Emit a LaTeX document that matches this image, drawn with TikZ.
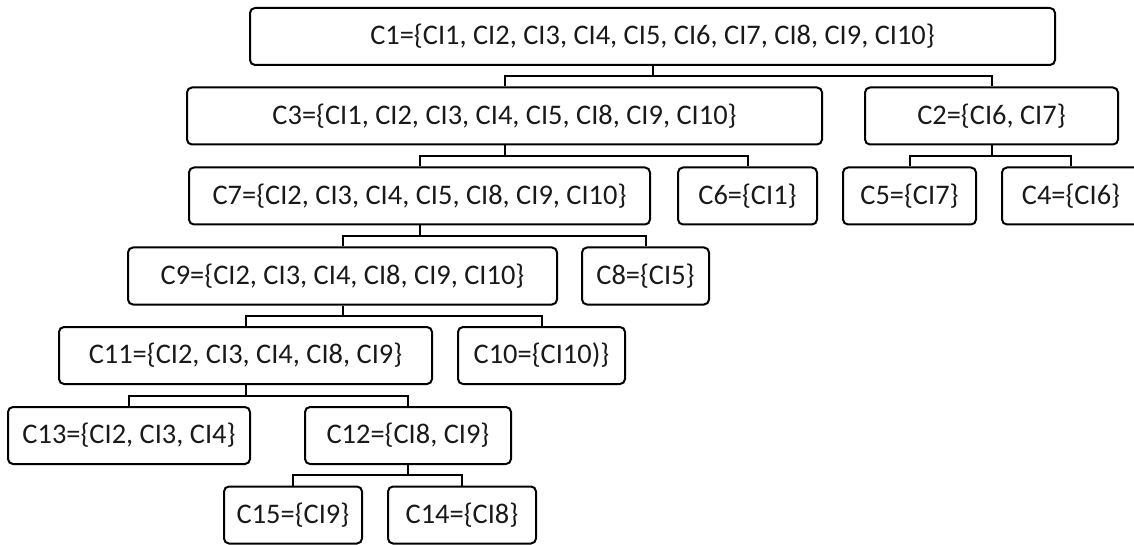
\documentclass[tikz,border=0pt]{standalone}
\usepackage{fontspec}
\setmainfont{Carlito}
\usetikzlibrary{calc}
\tikzset{
  cbox/.style={draw=black, line width=1pt, rounded corners=2.5pt, inner sep=0pt,
    minimum height=28.5pt, font=\fontsize{14.2pt}{16pt}\selectfont, text=black!90},
  link/.style={draw=black, line width=1pt}
}
\newcommand{\tie}[2]{\draw[link] (#1.south) |- ($(#1.south)!0.5!(#1.south |- #2.north)$) -| (#2.north);}
\begin{document}
\begin{tikzpicture}[x=0.5pt, y=-0.5pt]
\useasboundingbox (0,0) rectangle (1134,545);
\node[cbox, minimum width=402.5pt] (c1) at (652.5,36.5) {C1=\{CI1, CI2, CI3, CI4, CI5, CI6, CI7, CI8, CI9, CI10\}};
\node[cbox, minimum width=317.5pt] (c3) at (504.5,116) {C3=\{CI1, CI2, CI3, CI4, CI5, CI8, CI9, CI10\}};
\node[cbox, minimum width=126.5pt] (c2) at (991.5,116) {C2=\{CI6, CI7\}};
\node[cbox, minimum width=230.5pt] (c7) at (419.5,196) {C7=\{CI2, CI3, CI4, CI5, CI8, CI9, CI10\}};
\node[cbox, minimum width=69.5pt] (c6) at (747.5,196) {C6=\{CI1\}};
\node[cbox, minimum width=66.5pt] (c5) at (909.5,196) {C5=\{CI7\}};
\node[cbox, minimum width=69pt] (c4) at (1071,196) {C4=\{CI6\}};
\node[cbox, minimum width=214.5pt] (c9) at (342.5,276) {C9=\{CI2, CI3, CI4, CI8, CI9, CI10\}};
\node[cbox, minimum width=63.5pt] (c8) at (645.5,276) {C8=\{CI5\}};
\node[cbox, minimum width=186.5pt] (c11) at (245.5,355.5) {C11=\{CI2, CI3, CI4, CI8, CI9\}};
\node[cbox, minimum width=83.5pt] (c10) at (541.5,355.5) {C10=\{CI10)\}};
\node[cbox, minimum width=121pt] (c13) at (129,435.5) {C13=\{CI2, CI3, CI4\}};
\node[cbox, minimum width=103pt] (c12) at (408,435.5) {C12=\{CI8, CI9\}};
\node[cbox, minimum width=69pt] (c15) at (293,515) {C15=\{CI9\}};
\node[cbox, minimum width=74pt] (c14) at (462,515) {C14=\{CI8\}};
\tie{c1}{c3}
\tie{c1}{c2}
\tie{c3}{c7}
\tie{c3}{c6}
\tie{c2}{c5}
\tie{c2}{c4}
\tie{c7}{c9}
\tie{c7}{c8}
\tie{c9}{c11}
\tie{c9}{c10}
\tie{c11}{c13}
\tie{c11}{c12}
\tie{c12}{c15}
\tie{c12}{c14}
\end{tikzpicture}
\end{document}
